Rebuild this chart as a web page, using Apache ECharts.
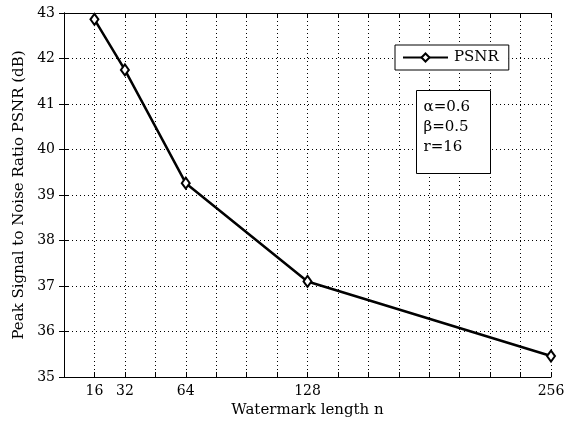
<!DOCTYPE html>
<html>
<head>
<meta charset="utf-8">
<script src="https://cdn.jsdelivr.net/npm/echarts@6/dist/echarts.min.js"></script>
<style>html,body{margin:0;padding:0;background:#fff}#c{width:574px;height:423px}</style>
</head>
<body>
<div id="c"></div>
<script>
var watermarkLength = [16, 32, 64, 128, 256];
var psnr = [42.86, 41.75, 39.26, 37.1, 35.46];
var xTickLabels = [16, 32, 64, 128, 256];
var seriesName = 'PSNR';
var paramLines = ['α=0.6', 'β=0.5', 'r=16'];

var FONT = '"DejaVu Serif", "Liberation Serif", serif';
var chart = echarts.init(document.getElementById('c'), null, {renderer: 'canvas'});
var dotted = {show: true, lineStyle: {color: '#000', type: [1, 3], width: 1}};
var option = {
  animation: false,
  backgroundColor: '#fff',
  grid: {left: 64, right: 23, top: 13, bottom: 46, show: false},
  legend: {
    data: [seriesName],
    left: 395, top: 45,
    padding: [5, 10, 5, 7],
    backgroundColor: '#fff',
    borderColor: '#000', borderWidth: 1,
    itemWidth: 45, itemHeight: 10,
    itemGap: 6,
    textStyle: {fontFamily: FONT, fontSize: 15, color: '#000', padding: [0, 0, 0, 1]}
  },
  xAxis: [{
    type: 'value', min: 0, max: 256, interval: 16,
    name: 'Watermark length n', nameLocation: 'middle', nameGap: 26,
    nameTextStyle: {fontFamily: FONT, fontSize: 15, color: '#000'},
    axisLine: {show: true, lineStyle: {color: '#000', width: 1}},
    axisTick: {show: true, inside: true, length: 5, lineStyle: {color: '#000'}},
    axisLabel: {
      fontFamily: FONT, fontSize: 14, color: '#000', margin: 7,
      formatter: function (v) { return xTickLabels.indexOf(v) >= 0 ? String(v) : ''; }
    },
    splitLine: dotted
  }, {
    type: 'value', min: 0, max: 256, interval: 16, position: 'top',
    axisLine: {show: true, lineStyle: {color: '#000', width: 1}},
    axisTick: {show: true, inside: true, length: 5, lineStyle: {color: '#000'}},
    axisLabel: {show: false}, splitLine: {show: false}
  }],
  yAxis: [{
    type: 'value', min: 35, max: 43, interval: 1,
    name: 'Peak Signal to Noise Ratio PSNR (dB)', nameLocation: 'middle', nameGap: 31,
    nameTextStyle: {fontFamily: FONT, fontSize: 15, color: '#000'},
    axisLine: {show: true, lineStyle: {color: '#000', width: 1}},
    axisTick: {show: true, inside: true, length: 5, lineStyle: {color: '#000'}},
    axisLabel: {fontFamily: FONT, fontSize: 14, color: '#000', margin: 9},
    splitLine: dotted
  }, {
    type: 'value', min: 35, max: 43, interval: 1, position: 'right',
    axisLine: {show: true, lineStyle: {color: '#000', width: 1}},
    axisTick: {show: true, inside: true, length: 5, lineStyle: {color: '#000'}},
    axisLabel: {show: false}, splitLine: {show: false}
  }],
  series: [{
    name: seriesName, type: 'line',
    data: watermarkLength.map(function (x, i) { return [x, psnr[i]]; }),
    symbol: 'diamond', symbolSize: [8, 11],
    lineStyle: {color: '#000', width: 2.5},
    itemStyle: {color: '#fff', borderColor: '#000', borderWidth: 2},
    z: 5
  }],
  graphic: [{
    type: 'group', left: 416, top: 90, z: 100,
    children: [{
      type: 'rect', shape: {x: 0, y: 0, width: 74, height: 83}, z: 100,
      style: {fill: '#fff', stroke: '#000', lineWidth: 1}
    }, {
      type: 'text', left: 7, top: 7, z: 101,
      style: {text: paramLines.join('\n'), fontFamily: FONT, fontSize: 15, lineHeight: 20, fill: '#000'}
    }]
  }]
};
chart.setOption(option);
</script>
</body>
</html>
